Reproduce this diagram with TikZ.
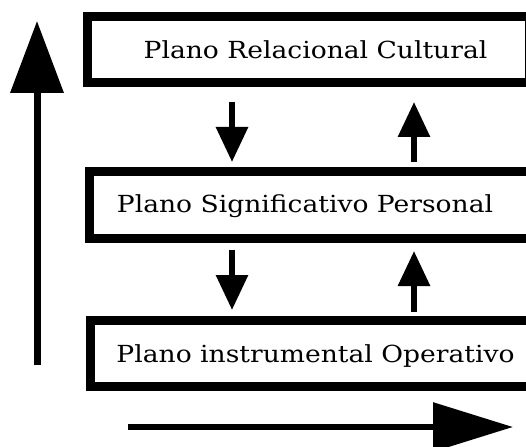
\documentclass[tikz,border=0pt]{standalone}
\usepackage{fontspec}
\setmainfont{DejaVu Serif}[FakeStretch=1.13]
\usetikzlibrary{arrows.meta,positioning}

\begin{document}
\begin{tikzpicture}[x=1pt,y=-1pt,
  plane/.style={draw,line width=9pt,minimum height=66pt,inner sep=0pt},
  planetext/.style={anchor=base,inner sep=0pt,font=\fontsize{23.5}{26}\selectfont},
  flow/.style={line width=6pt,-{Triangle[length=35pt,width=31pt]}},
  axis/.style={line width=7pt,-{Triangle[length=72pt,width=52pt]}}]

\useasboundingbox (0,0) rectangle (526,446);
\clip (0,0) rectangle (526,446);

% the three planes
\node[plane,minimum width=442pt] (rel) at (308.5,49.5) {};
\node[plane,minimum width=441pt,minimum height=67pt] (sig) at (310,205) {};
\node[plane,minimum width=449pt] (ins) at (315,353.5) {};

\node[planetext] (reltext) at (315.5,59) {Plano Relacional Cultural};
\node[planetext] (sigtext) at (305,212) {Plano Significativo Personal};
\node[planetext] (instext) at (315.5,362) {Plano instrumental Operativo};

\coordinate (dn) at (232,0);
\coordinate (up) at (414,0);

% arrows between the planes
\draw[flow,shorten <=15pt,shorten >=5pt] (rel.south -| dn) -- (sig.north -| dn);
\draw[flow,shorten <=5pt,shorten >=15pt] (sig.north -| up) -- (rel.south -| up);
\draw[flow,shorten <=7pt,shorten >=6pt] (sig.south -| dn) -- (ins.north -| dn);
\draw[flow,shorten <=4pt,shorten >=8pt] (ins.north -| up) -- (sig.south -| up);

% outer axes
\coordinate (vlow) at (37,365);
\coordinate (vtop) at (37,21);
\draw[axis] (vlow) -- (vtop);
\coordinate (hleft) at (128,427);
\coordinate (hright) at (513,427);
\draw[axis,line width=6pt,-{Triangle[length=80pt,width=48pt]}] (hleft) -- (hright);

\end{tikzpicture}
\end{document}
